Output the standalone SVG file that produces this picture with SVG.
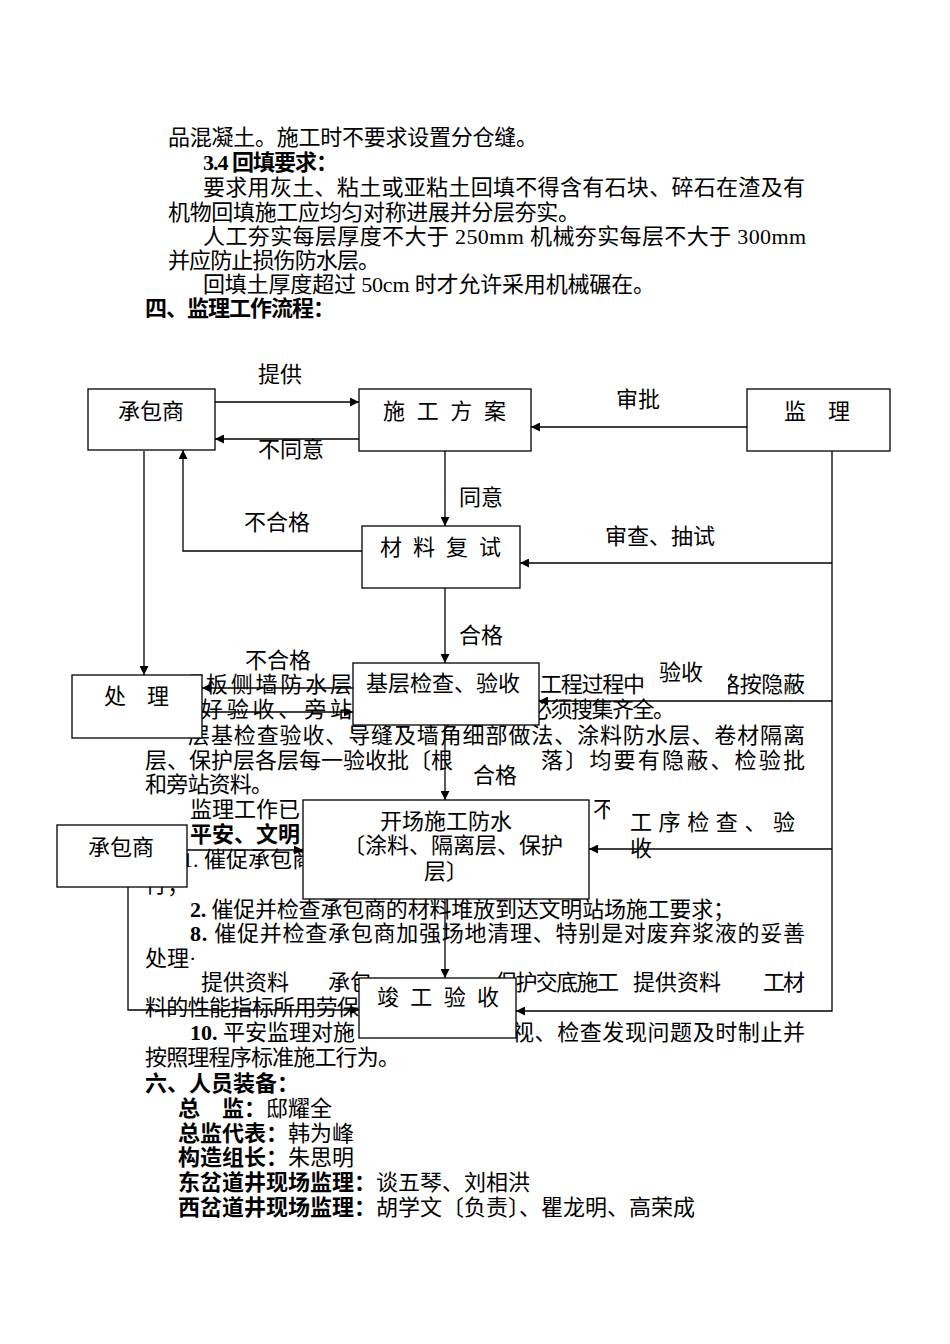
<svg xmlns="http://www.w3.org/2000/svg" width="950" height="1344" viewBox="0 0 950 1344">
<defs>
<style>
.t{font-family:"Liberation Serif","Noto Sans CJK SC",serif;font-size:22px;fill:#000}
.b{font-weight:bold}
.m{text-anchor:middle}
.box{fill:#fff;stroke:#000;stroke-width:1.3}
.c{fill:none;stroke:#000;stroke-width:1.3}
.lb{fill:#fff}
</style>
<marker id="ah" viewBox="0 0 10 10" refX="10" refY="5" markerWidth="11" markerHeight="9" markerUnits="userSpaceOnUse" orient="auto">
<path d="M0,0 L10,5 L0,10 Z" fill="#000"/>
</marker>
</defs>
<rect width="950" height="1344" fill="#fff"/>

<g id="body-text" class="t">
<text x="168" y="145" textLength="370">品混凝土。施工时不要求设置分仓缝。</text>
<text x="203" y="170" class="b" textLength="135">3.4 回填要求：</text>
<text x="203" y="195" textLength="602">要求用灰土、粘土或亚粘土回填不得含有石块、碎石在渣及有</text>
<text x="168" y="220" textLength="412">机物回填施工应均匀对称进展并分层夯实。</text>
<text x="203" y="244" textLength="603">人工夯实每层厚度不大于 250mm 机械夯实每层不大于 300mm</text>
<text x="168" y="268" textLength="212">并应防止损伤防水层。</text>
<text x="203" y="292" textLength="452">回填土厚度超过 50cm 时才允许采用机械碾在。</text>
<text x="145" y="316" class="b" textLength="190">四、监理工作流程：</text>

<text x="181" y="692" textLength="171">顶板侧墙防水层</text>
<text x="540" y="692" textLength="105">工程过程中</text>
<text x="718" y="692" textLength="87">格按隐蔽</text>
<text x="175" y="717" textLength="177">做好验收、旁站</text>
<text x="530" y="717" textLength="145">必须搜集齐全。</text>
<text x="188" y="743" textLength="617">层基检查验收、导缝及墙角细部做法、涂料防水层、卷材隔离</text>
<text x="145" y="768" textLength="308">层、保护层各层每一验收批〔根</text>
<text x="541" y="768" textLength="264">落〕均要有隐蔽、检验批</text>
<text x="145" y="792" textLength="128">和旁站资料。</text>
<text x="190" y="817" textLength="110">监理工作已</text>
<text x="593" y="817">不</text>
<text x="190" y="842" class="b" textLength="110">平安、文明</text>
<text x="182" y="867">1. 催促承包商</text>
<text x="145" y="892">行；</text>
<text x="190" y="917" textLength="545"><tspan class="b">2.</tspan> 催促并检查承包商的材料堆放到达文明站场施工要求；</text>
<text x="190" y="941" textLength="615"><tspan class="b">8.</tspan> 催促并检查承包商加强场地清理、特别是对废弃浆液的妥善</text>
<text x="145" y="966">处理·</text>
<text x="328" y="990">承包</text>
<text x="495" y="990" textLength="124">保护交底施工</text>
<text x="763" y="990" textLength="42">工材</text>
<text x="145" y="1015" textLength="214">料的性能指标所用劳保</text>
<text x="190" y="1040"><tspan class="b">10.</tspan> 平安监理对施</text>
<text x="512" y="1040" textLength="293">视、检查发现问题及时制止并</text>
<text x="145" y="1065" textLength="255">按照理程序标准施工行为。</text>
<text x="145" y="1091" class="b">六、人员装备：</text>
<text x="178" y="1116"><tspan class="b">总　监：</tspan>邸耀全</text>
<text x="178" y="1141"><tspan class="b">总监代表：</tspan>韩为峰</text>
<text x="178" y="1165"><tspan class="b">构造组长：</tspan>朱思明</text>
<text x="178" y="1190"><tspan class="b">东岔道井现场监理：</tspan>谈五琴、刘相洪</text>
<text x="178" y="1215"><tspan class="b">西岔道井现场监理：</tspan>胡学文〔负责〕、瞿龙明、高荣成</text>
</g>

<g id="label-backgrounds">
<rect class="lb" x="646" y="655" width="82" height="42"/>
<rect class="lb" x="610" y="797" width="195" height="52"/>
</g>

<g id="connectors" class="c">
<path d="M215,402 H359" marker-end="url(#ah)"/>
<path d="M359,439 H215" marker-end="url(#ah)"/>
<path d="M747,427 H531" marker-end="url(#ah)"/>
<path d="M445,451 V526" marker-end="url(#ah)"/>
<path d="M362,551 H183 V450" marker-end="url(#ah)"/>
<path d="M144,451 V675" marker-end="url(#ah)"/>
<path d="M832,451 V1011 H516" marker-end="url(#ah)"/>
<path d="M832,563 H520" marker-end="url(#ah)"/>
<path d="M832,701 H539" marker-end="url(#ah)"/>
<path d="M832,849 H589" marker-end="url(#ah)"/>
<path d="M445,588 V663" marker-end="url(#ah)"/>
<path d="M353,688 H202" marker-end="url(#ah)"/>
<path d="M202,712 H353" marker-end="url(#ah)"/>
<path d="M445,725 V800" marker-end="url(#ah)"/>
<path d="M187,850 H303" marker-end="url(#ah)"/>
<path d="M445,899 V978" marker-end="url(#ah)"/>
<path d="M128,887 V1010 H359" marker-end="url(#ah)"/>
</g>

<g id="labels" class="t">
<text x="280" y="382" class="m">提供</text>
<text x="638" y="407" class="m">审批</text>
<text x="291" y="457" class="m">不同意</text>
<text x="481" y="505" class="m">同意</text>
<text x="277" y="530" class="m">不合格</text>
<text x="660" y="544" class="m">审查、抽试</text>
<text x="481" y="643" class="m">合格</text>
<text x="278" y="668" class="m">不合格</text>
<text x="681" y="680" class="m">验收</text>
<text x="495" y="783" class="m">合格</text>
<text x="630" y="830" textLength="165">工 序 检 查 、 验</text>
<text x="630" y="856">收</text>
<text x="245" y="990" class="m">提供资料</text>
<text x="677" y="990" class="m">提供资料</text>
</g>

<g id="node-contractor" class="t">
<rect class="box" x="88" y="389" width="127" height="61"/>
<text x="151" y="419" class="m">承包商</text>
</g>
<g id="node-plan" class="t">
<rect class="box" x="359" y="389" width="172" height="62"/>
<text x="383" y="419" textLength="123">施 工 方 案</text>
</g>
<g id="node-supervisor" class="t">
<rect class="box" x="747" y="389" width="143" height="62"/>
<text x="784" y="419" textLength="66">监　理</text>
</g>
<g id="node-material" class="t">
<rect class="box" x="362" y="526" width="158" height="62"/>
<text x="380" y="555" textLength="121">材 料 复 试</text>
</g>
<g id="node-base" class="t">
<rect class="box" x="353" y="663" width="186" height="62"/>
<text x="443" y="691" class="m">基层检查、验收</text>
</g>
<g id="node-handle" class="t">
<rect class="box" x="72" y="675" width="130" height="63"/>
<text x="104" y="704" textLength="65">处　理</text>
</g>
<g id="node-construct" class="t">
<rect class="box" x="303" y="800" width="286" height="99"/>
<text x="446" y="829" class="m">开场施工防水</text>
<text x="343" y="853">〔涂料、隔离层、保护</text>
<text x="424" y="879">层〕</text>
</g>
<g id="node-contractor2" class="t">
<rect class="box" x="57" y="825" width="130" height="62"/>
<text x="121" y="855" class="m">承包商</text>
</g>
<g id="node-final" class="t">
<rect class="box" x="359" y="978" width="157" height="60"/>
<text x="377" y="1005" textLength="122">竣 工 验 收</text>
</g>
</svg>
